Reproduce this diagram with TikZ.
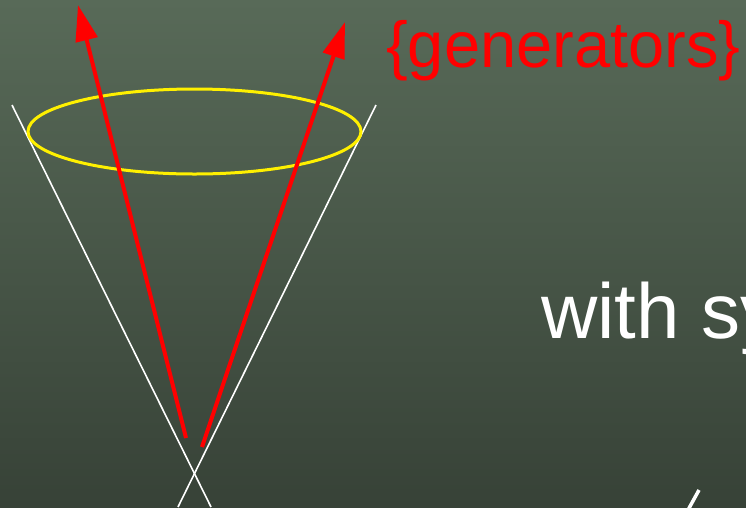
\documentclass[tikz,border=0pt]{standalone}
\usepackage{fontspec}
\setmainfont{Liberation Sans}
\usetikzlibrary{arrows.meta,positioning}
\definecolor{bgtop}{RGB}{88,106,88}
\definecolor{bgbot}{RGB}{55,66,55}
\definecolor{ringyel}{RGB}{255,240,0}
\tikzset{
  coneln/.style={white,line width=1.6pt},
  genarr/.style={red,line width=4pt,-{Triangle[length=36pt,width=22pt]}},
  ring/.style={ringyel,line width=3pt},
  bigtxt/.style={inner sep=0pt,anchor=base west},
}

\begin{document}
\begin{tikzpicture}[x=1pt,y=-1pt]
  \useasboundingbox (0,0) rectangle (746,507);
  \clip (0,0) rectangle (746,507);
  \shade[top color=bgtop,bottom color=bgbot] (0,0) rectangle (746,507);
  % light cone
  \coordinate (cl1) at (12,105);
  \coordinate (cl2) at (211,507);
  \coordinate (cr1) at (376,105);
  \coordinate (cr2) at (178,507);
  \draw[coneln] (cl1) -- (cl2);
  \draw[coneln] (cr1) -- (cr2);
  % section of the cone
  \draw[ring] (194.5,131.5) ellipse [x radius=166.5,y radius=42.5];
  % generators
  \coordinate (g1s) at (186,438);
  \coordinate (g1e) at (78,5);
  \coordinate (g2s) at (202,447);
  \coordinate (g2e) at (345,22);
  \draw[genarr] (g1s) -- (g1e);
  \draw[genarr] (g2s) -- (g2e);
  \node[bigtxt,red,font=\fontsize{65}{78}\selectfont] (gens) at (386,67) {\{generators\}};
  \node[bigtxt,white,font=\fontsize{78}{94}\selectfont] (with) at (541,338) {with sy};
  % clipped glyph at the bottom
  \coordinate (sl1) at (699,490);
  \coordinate (sl2) at (688,510);
  \draw[white,line width=3.5pt] (sl1) -- (sl2);
\end{tikzpicture}
\end{document}
